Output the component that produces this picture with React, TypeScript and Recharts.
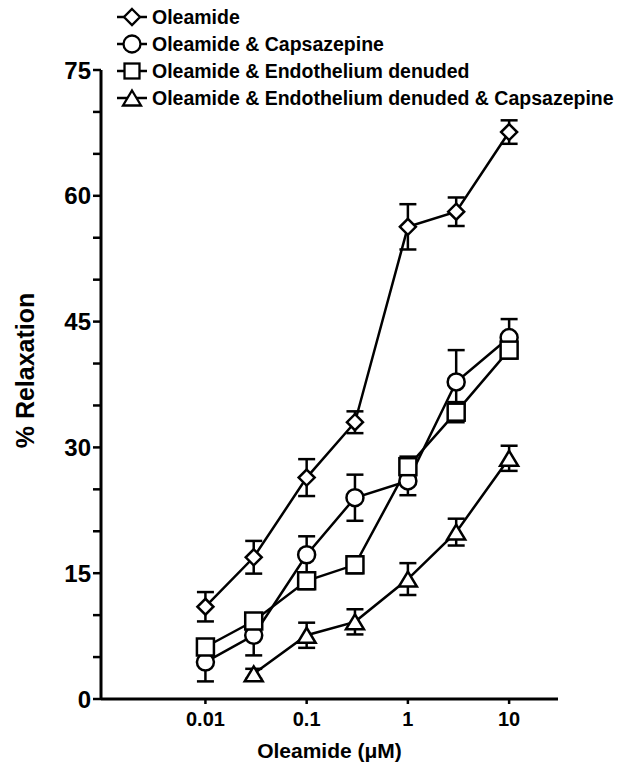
import React from 'react';
import { LineChart, Line, XAxis, YAxis, ErrorBar } from 'recharts';

const doses = [0.01, 0.03, 0.1, 0.3, 1, 3, 10];
const oleamide = [11.0, 16.9, 26.4, 33.0, 56.3, 58.1, 67.6];
const oleamideErr = [1.75, 1.95, 2.2, 1.3, 2.7, 1.7, 1.4];
const capsazepine = [4.4, 7.6, 17.2, 24.0, 26.0, 37.8, 43.1];
const capsazepineErr = [2.3, 2.4, 2.2, 2.75, 1.7, 3.8, 2.2];
const denuded = [6.2, 9.3, 14.1, 16.0, 27.7, 34.2, 41.6];
const denudedErr = [0.8, 0.8, 1.0, 1.0, 1.2, 1.2, 1.0];
const denudedCapDoses = [0.03, 0.1, 0.3, 1, 3, 10];
const denudedCap = [3.0, 7.6, 9.2, 14.3, 19.9, 28.7];
const denudedCapErr = [0.6, 1.5, 1.5, 1.9, 1.6, 1.5];

const xTicks = [0.01, 0.1, 1, 10];
const yTicks = [0, 5, 10, 15, 20, 25, 30, 35, 40, 45, 50, 55, 60, 65, 70, 75];

const FONT = '"Liberation Sans", Arial, Helvetica, sans-serif';

type Shape = 'diamond' | 'circle' | 'square' | 'triangle';

const build = (xs: number[], ys: number[], es: number[]) =>
  xs.map((x, i) => ({ x, y: ys[i], err: es[i] }));

const series: { name: string; shape: Shape; data: { x: number; y: number; err: number }[] }[] = [
  { name: 'Oleamide', shape: 'diamond', data: build(doses, oleamide, oleamideErr) },
  { name: 'Oleamide & Capsazepine', shape: 'circle', data: build(doses, capsazepine, capsazepineErr) },
  { name: 'Oleamide & Endothelium denuded', shape: 'square', data: build(doses, denuded, denudedErr) },
  {
    name: 'Oleamide & Endothelium denuded & Capsazepine',
    shape: 'triangle',
    data: build(denudedCapDoses, denudedCap, denudedCapErr),
  },
];

const Marker = ({ shape, cx, cy, s = 1, sw = 2.5 }: { shape: Shape; cx: number; cy: number; s?: number; sw?: number }) => {
  const common = { fill: '#fff', stroke: '#000', strokeWidth: sw };
  if (shape === 'circle') return <circle cx={cx} cy={cy} r={8.5 * s} {...common} />;
  if (shape === 'square') {
    const h = 8.5 * s;
    return <rect x={cx - h} y={cy - h} width={2 * h} height={2 * h} {...common} />;
  }
  if (shape === 'diamond') {
    const h = 8 * s;
    return <polygon points={`${cx},${cy - h} ${cx + h},${cy} ${cx},${cy + h} ${cx - h},${cy}`} {...common} />;
  }
  const w = 9 * s;
  const h = 7.5 * s;
  return <polygon points={`${cx},${cy - h} ${cx + w},${cy + h} ${cx - w},${cy + h}`} {...common} strokeLinejoin="miter" />;
};

const YTick = (props: any) => {
  const { x, y, payload } = props;
  if (payload.value % 15 !== 0) return <g />;
  return (
    <text x={x} y={y} dy="0.36em" textAnchor="end" fontFamily={FONT} fontWeight="bold" fontSize={24} fill="#000">
      {payload.value}
    </text>
  );
};

const YLabel = (props: any) => {
  const vb = props.viewBox;
  const cx = vb.x + 25;
  const cy = vb.y + vb.height / 2 - 14;
  return (
    <text
      x={cx}
      y={cy}
      transform={`rotate(-90 ${cx} ${cy})`}
      textAnchor="middle"
      dominantBaseline="central"
      fontFamily={FONT}
      fontWeight="bold"
      fontSize={25}
      fill="#000"
    >
      % Relaxation
    </text>
  );
};

const XLabel = (props: any) => {
  const vb = props.viewBox;
  return (
    <text
      x={vb.x + vb.width / 2}
      y={vb.y + 59}
      textAnchor="middle"
      fontFamily={FONT}
      fontWeight="bold"
      fontSize={21}
      fill="#000"
    >
      Oleamide (μM)
    </text>
  );
};

const LegendBox = () => (
  <div style={{ position: 'absolute', left: 115, top: 3.5, fontFamily: FONT, fontWeight: 'bold', fontSize: 19.5 }}>
    {series.map((s) => (
      <div key={s.name} style={{ display: 'flex', alignItems: 'center', height: 27 }}>
        <svg width={34} height={22} style={{ display: 'block' }}>
          <line x1={2} y1={11} x2={32} y2={11} stroke="#000" strokeWidth={2.5} />
          <Marker shape={s.shape} cx={17} cy={11} s={s.shape === 'square' ? 0.88 : 1} sw={2.3} />
        </svg>
        <span style={{ marginLeft: 3, whiteSpace: 'nowrap' }}>{s.name}</span>
      </div>
    ))}
  </div>
);

export default function App() {
  return (
    <div style={{ position: 'absolute', left: 0, top: 0, width: 625, height: 771, background: '#fff' }}>
      <LineChart width={625} height={771} margin={{ top: 70, right: 67, bottom: 0, left: 0 }}>
        <XAxis
          type="number"
          dataKey="x"
          scale="log"
          domain={[0.00093, 30.4]}
          allowDataOverflow
          ticks={xTicks}
          tickFormatter={(v: number) => String(v)}
          height={72}
          axisLine={{ stroke: '#000', strokeWidth: 3 }}
          tickLine={{ stroke: '#000', strokeWidth: 2.5 }}
          tickSize={5}
          tickMargin={8}
          tick={{ fill: '#000', fontFamily: FONT, fontWeight: 'bold', fontSize: 20 }}
          label={<XLabel />}
        />
        <YAxis
          type="number"
          domain={[0, 75]}
          ticks={yTicks}
          interval={0}
          width={101}
          axisLine={{ stroke: '#000', strokeWidth: 3 }}
          tickLine={{ stroke: '#000', strokeWidth: 2.5 }}
          tickSize={8}
          tickMargin={2}
          tick={<YTick />}
          label={<YLabel />}
        />
        {series.map((s) => (
          <Line
            key={s.name}
            data={s.data}
            dataKey="y"
            name={s.name}
            stroke="#000"
            strokeWidth={2.5}
            isAnimationActive={false}
            dot={(p: any) => <Marker key={`${s.name}-${p.index}`} shape={s.shape} cx={p.cx} cy={p.cy} />}
            activeDot={false}
          >
            <ErrorBar dataKey="err" direction="y" width={8.5} stroke="#000" strokeWidth={2.5} />
          </Line>
        ))}
      </LineChart>
      <LegendBox />
    </div>
  );
}
